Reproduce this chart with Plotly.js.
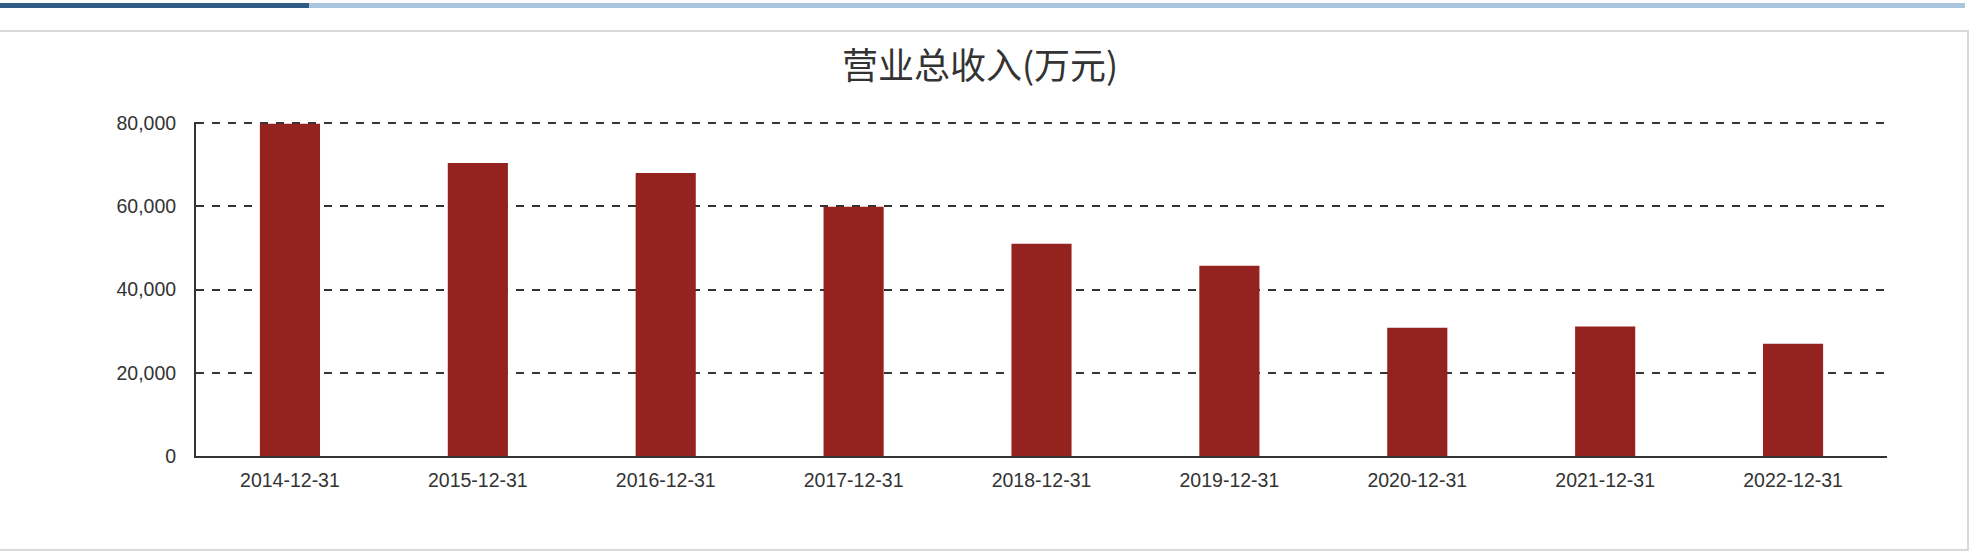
<!DOCTYPE html>
<html>
<head>
<meta charset="utf-8">
<script src="https://cdn.plot.ly/plotly-3.0.1.min.js"></script>
<style>
  html, body { margin: 0; padding: 0; background: #fff; }
  #wrap { position: relative; width: 1974px; height: 556px; overflow: hidden; }
  /* bandeau bleu en haut */
  #barDark { position: absolute; left: 0; top: 3px; width: 309px; height: 5px; background: #2f5d85; }
  #barLight { position: absolute; left: 309px; top: 3px; width: 1656px; height: 5px; background: #a9c6de; }
  /* cadre gris du panneau */
  #panel { position: absolute; left: -2px; top: 30px; width: 1971px; height: 521px; border: 2px solid #d9d9d9; box-sizing: border-box; }
  #chart { position: absolute; left: 0; top: 0; width: 1974px; height: 556px; }
</style>
</head>
<body>
<div id="wrap">
  <div id="barDark"></div>
  <div id="barLight"></div>
  <div id="panel"></div>
  <div id="chart"></div>
</div>
<script>
// dates de clôture (catégories)
var dates = ['2014-12-31', '2015-12-31', '2016-12-31', '2017-12-31', '2018-12-31',
  '2019-12-31', '2020-12-31', '2021-12-31', '2022-12-31'];
//营业总收入 en 万元
var revenus = [79800, 70400, 68000, 59900, 51000, 45700, 30800, 31100, 27000];
// graduations de l'axe y
var yTicks = [0, 20000, 40000, 60000, 80000];
var yTickText = ['0', '20,000', '40,000', '60,000', '80,000'];

var data = [{
  x: dates,
  y: revenus,
  type: 'bar',
  marker: { color: '#94231f' },
  hoverinfo: 'x+y'
}];

var layout = {
  width: 1974,
  height: 556,
  margin: { l: 196, r: 87, t: 122, b: 100 },
  paper_bgcolor: 'rgba(0,0,0,0)',
  plot_bgcolor: 'rgba(0,0,0,0)',
  bargap: 0.68,
  showlegend: false,
  title: {
    text: '营业总收入(万元)',
    font: { family: 'Noto Sans CJK SC', size: 36, color: '#333' },
    xref: 'container', x: 0.4965,
    yref: 'container', y: 0.88, yanchor: 'middle'
  },
  xaxis: {
    type: 'category',
    showline: true, linecolor: '#333', linewidth: 2,
    showgrid: false, ticks: '', zeroline: false,
    tickfont: { family: 'Liberation Sans, Arial, sans-serif', size: 19.5, color: '#333' },
    ticklabelstandoff: 6
  },
  yaxis: {
    // un peu au-dessus de 80 000 pour que la ligne de grille du haut soit dessinée
    range: [0, 80250],
    tickvals: yTicks,
    ticktext: yTickText,
    showline: true, linecolor: '#333', linewidth: 2,
    showgrid: true, gridcolor: '#333', gridwidth: 2, griddash: '8px,8px',
    zeroline: false, ticks: '',
    tickfont: { family: 'Liberation Sans, Arial, sans-serif', size: 19.5, color: '#333' },
    ticklabelstandoff: 14
  }
};

Plotly.newPlot('chart', data, layout, { displayModeBar: false, staticPlot: true });
</script>
</body>
</html>
